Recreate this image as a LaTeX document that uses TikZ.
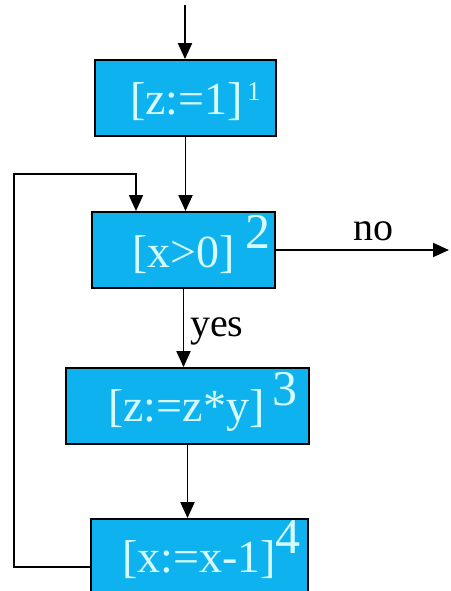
\documentclass[tikz,border=0pt]{standalone}
\usepackage{fontspec}
\setmainfont{Liberation Serif}
\usetikzlibrary{arrows.meta,calc}
\definecolor{boxblue}{RGB}{14,178,238}
\definecolor{boxtext}{RGB}{214,252,255}

\begin{document}
\begin{tikzpicture}[x=1pt,y=-1pt,
  blk/.style={draw=black,line width=1.8pt,fill=boxblue,minimum height=76pt,inner sep=0pt},
  stmt/.style={boxtext,inner sep=0pt,anchor=west,font=\fontsize{46}{50}\selectfont},
  lbl/.style={boxtext,inner sep=0pt,anchor=north west,font=\fontsize{50}{54}\selectfont},
  flow/.style={line width=1.9pt,-{Triangle[length=16pt,width=14pt]}}]
  \useasboundingbox (0,0) rectangle (450,591);
  \clip (0,0) rectangle (450,591);
  % boxes
  \node[blk,minimum width=181pt] (b1) at (185.5,98){};
  \node[blk,minimum width=183pt] (b2) at (183.5,250){};
  \node[blk,minimum width=243pt] (b3) at (187.5,406){};
  \node[blk,minimum width=217pt,minimum height=96pt] (b4) at (199.5,567){};
  % statements and labels
  \node[stmt] (t1) at (130,101.5){[z:=1]};
  \node[lbl,font=\fontsize{27}{30}\selectfont] (s1) at (247,82){1};
  \node[stmt] (t2) at (132,254.5){[x>0]};
  \node[lbl] (s2) at (245,215){2};
  \node[stmt] (t3) at (108,410.5){[z:=z*y]};
  \node[lbl] (s3) at (272,372){3};
  \node[stmt] (t4) at (122,560){[x:=x-1]};
  \node[lbl] (s4) at (275,520){4};
  % flow
  \coordinate (start) at (185,5);
  \coordinate (lp) at (14,174);
  \coordinate (lq) at (136,174);
  \coordinate (noEnd) at (449,248);
  \draw[flow] (start) -- (start |- b1.north);
  \draw[flow] (b1.south) -- (b1.south |- b2.north);
  \draw[flow] (b2.south) -- (b2.south |- b3.north);
  \draw[flow] (b3.south) -- (b3.south |- b4.north);
  \draw[flow] (b4.west) -| (lp) -- (lq) -- (lq |- b2.north);
  \draw[flow] (b2.east) -- (b2.east -| noEnd);
  \node[anchor=base west,inner sep=0pt,font=\fontsize{40}{44}\selectfont] (no) at (353,240){no};
  \node[anchor=base west,inner sep=0pt,font=\fontsize{40}{44}\selectfont] (yes) at (190,336){yes};
\end{tikzpicture}
\end{document}
